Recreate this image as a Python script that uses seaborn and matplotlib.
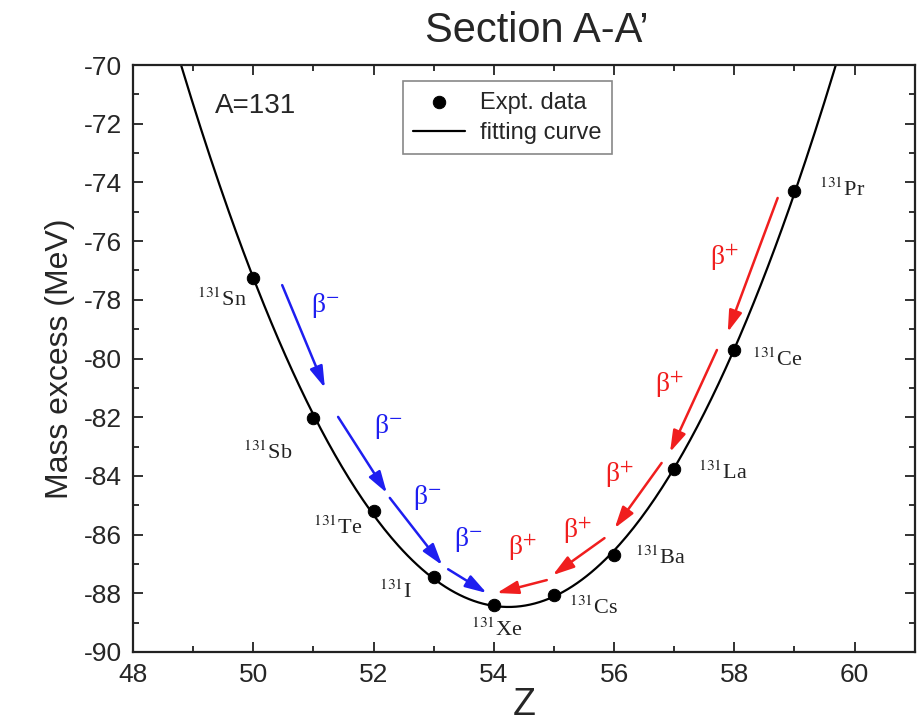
#!/usr/bin/env python3
"""
Mass parabola for the A=131 isobars (Section A-A').
"""

import numpy as np
import pandas as pd
import matplotlib
matplotlib.use("Agg")
import matplotlib.pyplot as plt
from matplotlib.ticker import MultipleLocator
import seaborn as sns

# isobar chain A=131
Z = [50, 51, 52, 53, 54, 55, 56, 57, 58, 59]
ELEMENTS = ["Sn", "Sb", "Te", "I", "Xe", "Cs", "Ba", "La", "Ce", "Pr"]
MASS_EXCESS = [-77.27, -82.02, -85.21, -87.44, -88.41, -88.06, -86.68, -83.77, -79.71, -74.28]

# label anchors (data coords) and alignment for each isotope
LABEL_POS = [(49.9, -78.0), (50.65, -83.2), (51.82, -85.75), (52.65, -87.95), (53.62, -89.25),
             (55.25, -88.5), (56.35, -86.8), (57.4, -83.9), (58.3, -80.05), (59.4, -74.25)]
LABEL_HA = ["right", "right", "right", "right", "left", "left", "left", "left", "left", "left"]

# decay arrows (start, end) in data coords, with their label spots
BETA_MINUS = [((50.48, -77.50), (51.19, -81.00)),
              ((51.41, -81.99), (52.22, -84.58)),
              ((52.27, -84.75), (53.14, -87.04)),
              ((53.24, -87.18), (53.88, -87.99))]
BETA_MINUS_TXT = [(51.19, -78.2), (52.24, -82.3), (52.90, -84.75), (53.58, -86.15)]
BETA_PLUS = [((58.72, -74.53), (57.89, -79.10)),
             ((57.71, -79.71), (56.93, -83.19)),
             ((56.79, -83.56), (56.01, -85.78)),
             ((55.84, -86.12), (54.98, -87.38)),
             ((54.88, -87.55), (54.05, -87.99))]
BETA_PLUS_TXT = [(57.84, -76.55), (56.92, -80.9), (56.09, -83.95), (55.39, -85.85), (54.48, -86.45)]

BLUE = "#1e1ef0"
RED = "#f01e1e"


def draw_arrows(ax, arrows, texts, color, label):
    for (x0, y0), (x1, y1) in arrows:
        ax.annotate("", xy=(x1, y1), xytext=(x0, y0),
                    arrowprops=dict(arrowstyle="-|>,head_length=0.65,head_width=0.2",
                                    color=color, lw=1.8, shrinkA=0, shrinkB=0,
                                    mutation_scale=20))
    for x, y in texts:
        ax.text(x, y, label, color=color, fontsize=20, ha="center", va="center",
                family="Liberation Serif")


def main():
    sns.set_style("ticks")
    plt.rcParams["font.family"] = ["Liberation Sans", "DejaVu Sans"]
    plt.rcParams["mathtext.fontset"] = "stix"
    plt.rcParams["axes.unicode_minus"] = False

    df = pd.DataFrame({"Z": Z, "mass": MASS_EXCESS})

    # quadratic fit of the mass parabola
    coef = np.polyfit(df["Z"], df["mass"], 2)
    zz = np.linspace(48.5, 60.2, 300)
    fit = pd.DataFrame({"Z": zz, "mass": np.polyval(coef, zz)})

    fig = plt.figure(figsize=(9.24, 7.28), dpi=100)
    ax = fig.add_axes([0.144, 0.1044, 0.846, 0.8063])

    sns.lineplot(data=fit, x="Z", y="mass", color="black", lw=1.6, ax=ax,
                 label="fitting curve", zorder=2)
    sns.scatterplot(data=df, x="Z", y="mass", color="black", s=80, ax=ax,
                    label="Expt. data", zorder=3, edgecolor="black")

    ax.set_xlim(48, 61)
    ax.set_ylim(-90, -70)
    ax.xaxis.set_major_locator(MultipleLocator(2))
    ax.xaxis.set_minor_locator(MultipleLocator(1))
    ax.yaxis.set_major_locator(MultipleLocator(2))
    ax.yaxis.set_minor_locator(MultipleLocator(1))
    ax.tick_params(which="both", direction="in", top=True, right=True, width=1.3,
                   color="#222222")
    ax.tick_params(which="major", length=7, labelsize=19, pad=8)
    ax.tick_params(which="minor", length=4)
    for sp in ax.spines.values():
        sp.set_linewidth(1.6)
        sp.set_color("#222222")

    ax.set_xlabel("Z", fontsize=27, labelpad=0)
    ax.set_ylabel("Mass excess (MeV)", fontsize=23, labelpad=6)

    # isotope labels
    for el, (x, y), ha in zip(ELEMENTS, LABEL_POS, LABEL_HA):
        ax.text(x, y, "$^{131}$" + el, fontsize=16, ha=ha, va="center",
                family="Liberation Serif", color="#222222")

    draw_arrows(ax, BETA_MINUS, BETA_MINUS_TXT, BLUE, "β$^{-}$")
    draw_arrows(ax, BETA_PLUS, BETA_PLUS_TXT, RED, "β$^{+}$")

    ax.text(49.37, -71.4, "A=131", fontsize=20, ha="left", va="center")

    handles, labels = ax.get_legend_handles_labels()
    order = [labels.index("Expt. data"), labels.index("fitting curve")]
    leg = ax.legend([handles[i] for i in order], [labels[i] for i in order],
                    loc="upper left", bbox_to_anchor=(0.336, 0.985), fontsize=17,
                    frameon=True, fancybox=False, framealpha=1, edgecolor="#888888",
                    handlelength=2.2, borderpad=0.45, labelspacing=0.35,
                    handletextpad=0.6, borderaxespad=0.3)
    leg.get_frame().set_linewidth(1.2)

    fig.text(0.581, 0.958, "Section A-A\u2019", fontsize=30, ha="center", va="center")

    fig.savefig("out.png", dpi=100)
    plt.close(fig)


if __name__ == "__main__":
    main()
